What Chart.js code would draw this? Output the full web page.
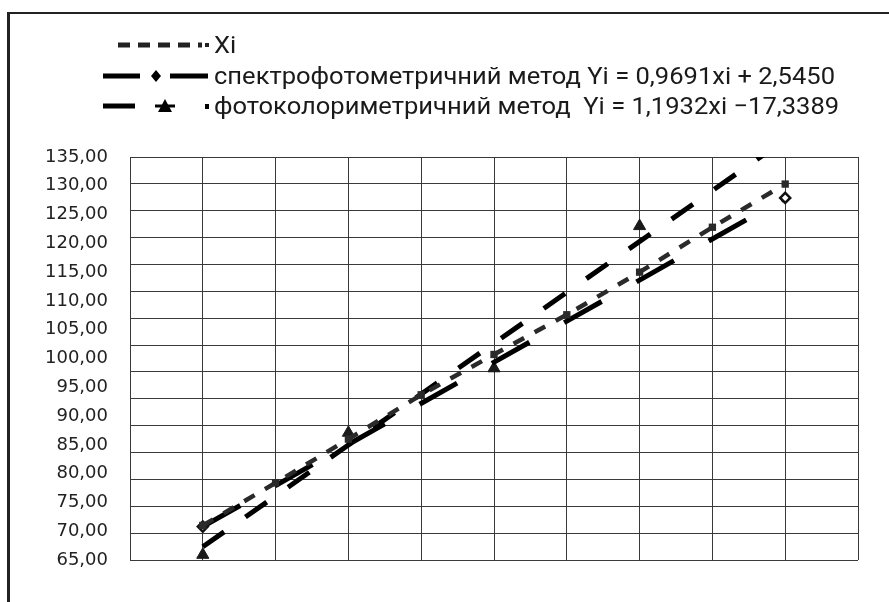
<!DOCTYPE html>
<html>
<head>
<meta charset="utf-8">
<script src="https://cdn.jsdelivr.net/npm/chart.js@4.4.1/dist/chart.umd.min.js"></script>
<style>
    html, body { margin: 0; padding: 0; background: #fff; }
    #wrap { position: relative; width: 889px; height: 602px; overflow: hidden; }
    #frame {
        position: absolute; left: 7px; top: 12px; right: -10px; bottom: -10px;
        border-top: 2px solid #222; border-left: 3px solid #222;
    }
    #chart { position: absolute; left: 0; top: 0; }
    .legend { position: absolute; left: 100px; top: 30px; font-family: Roboto, sans-serif; color: #1a1a1a; }
    .row { position: relative; height: 30.5px; white-space: pre; }
    .row svg { position: absolute; left: 0; top: 0; }
    .row .txt { position: absolute; left: 114px; top: 1px; font-size: 24px; line-height: 28px; transform-origin: left center; white-space: pre; }
</style>
</head>
<body>
<div id="wrap">
    <div id="frame"></div>
    <canvas id="chart" width="889" height="602"></canvas>
    <div class="legend">
        <div class="row">
            <svg width="115" height="30"><line x1="18" y1="15" x2="102" y2="15" stroke="#222" stroke-width="5" stroke-dasharray="12,8"/><rect x="105" y="13" width="4" height="4" fill="#222"/></svg>
            <span class="txt">Xi</span>
        </div>
        <div class="row">
            <svg width="115" height="30"><line x1="3" y1="15" x2="40" y2="15" stroke="#000" stroke-width="5"/><polygon points="56,9 61,15 56,21 51,15" fill="#000"/><line x1="70" y1="15" x2="108" y2="15" stroke="#000" stroke-width="5"/></svg>
            <span class="txt">спектрофотометричний метод Yi = 0,9691xi + 2,5450</span>
        </div>
        <div class="row">
            <svg width="115" height="30"><line x1="3" y1="15" x2="35" y2="15" stroke="#000" stroke-width="5"/><polygon points="65,8 72,21 58,21" fill="#000"/><line x1="55" y1="15" x2="75" y2="15" stroke="#000" stroke-width="3"/><rect x="105" y="13" width="4" height="5" fill="#000"/></svg>
            <span class="txt">фотоколориметричний метод  Yi = 1,1932xi −17,3389</span>
        </div>
    </div>
</div>
<script>
// позиції зразків на осі X (вертикальні лінії сітки)
const samplePos = [1, 2, 3, 4, 5, 6, 7, 8, 9];
// Xi
const xiValues = [71.0, 78.4, 86.0, 93.7, 100.7, 107.6, 115.0, 122.8, 130.3];
// спектрофотометричний метод (лінія від першого до останнього зразка)
const spectroPos = [1, 9];
const spectroValues = [70.8, 127.9];
// фотоколориметричний метод: лінія та точки
const photoLinePos = [1, 9];
const photoLineValues = [67.3, 138.0];
const photoPointPos = [1, 3, 5, 7];
const photoPointValues = [65.9, 87.1, 98.3, 123.0];
// підписи осі Y
const yTicks = [65, 70, 75, 80, 85, 90, 95, 100, 105, 110, 115, 120, 125, 130, 135];

const toXY = (xs, ys) => xs.map((x, i) => ({ x: x, y: ys[i] }));

const gridColor = '#3a3a3a';

new Chart(document.getElementById('chart'), {
    type: 'line',
    data: {
        datasets: [
            {
                label: 'Xi',
                data: toXY(samplePos, xiValues),
                borderColor: '#2a2a2a',
                backgroundColor: '#2a2a2a',
                borderWidth: 4.5,
                borderDash: [12, 12],
                pointStyle: 'rect',
                pointRadius: 2,
                yAxisID: 'y'
            },
            {
                label: 'спектрофотометричний метод',
                data: toXY(spectroPos, spectroValues),
                borderColor: '#000',
                backgroundColor: '#000',
                borderWidth: 5,
                borderDash: [43, 40],
                pointStyle: 'rectRot',
                pointRadius: 5,
                pointBackgroundColor: '#fff',
                pointBorderColor: '#111',
                pointBorderWidth: 2.5,
                yAxisID: 'y'
            },
            {
                label: 'фотоколориметричний метод',
                data: toXY(photoLinePos, photoLineValues),
                borderColor: '#000',
                borderWidth: 5,
                borderDash: [26, 26],
                pointRadius: 0,
                yAxisID: 'y'
            },
            {
                label: 'фотоколориметричний метод (точки)',
                data: toXY(photoPointPos, photoPointValues),
                showLine: false,
                backgroundColor: '#1a1a1a',
                borderColor: '#1a1a1a',
                pointStyle: 'triangle',
                pointRadius: 7,
                yAxisID: 'y'
            }
        ]
    },
    options: {
        responsive: false,
        animation: false,
        events: [],
        layout: { padding: { top: 157, bottom: 42, left: 0, right: 31 } },
        plugins: { legend: { display: false }, tooltip: { enabled: false } },
        scales: {
            x: {
                type: 'linear',
                min: 0,
                max: 10,
                ticks: { display: false, stepSize: 1 },
                grid: { color: gridColor, lineWidth: 1, drawTicks: false },
                border: { display: false },
                afterFit: s => { s.height = 0; }
            },
            y: {
                type: 'linear',
                position: 'left',
                min: yTicks[0],
                max: yTicks[yTicks.length - 1],
                afterBuildTicks: s => { s.ticks = yTicks.map(v => ({ value: v })); },
                ticks: {
                    padding: 22,
                    color: '#222',
                    font: { family: 'DejaVu Sans', size: 18 },
                    callback: v => v.toFixed(2).replace('.', ',')
                },
                grid: { display: false, drawTicks: false },
                border: { display: false },
                afterFit: s => { s.width = 130; }
            },
            // окрема вісь лише для горизонтальної сітки (16 ліній)
            yGrid: {
                type: 'linear',
                position: 'right',
                min: 0,
                max: 15,
                ticks: { display: false, stepSize: 1 },
                grid: { color: gridColor, lineWidth: 1, drawTicks: false },
                border: { display: false },
                afterFit: s => { s.width = 0; }
            }
        }
    }
});

// стиснення тексту легенди до ширини оригіналу
const rows = document.querySelectorAll('.row .txt');
const target = 621;
const w = rows[1].getBoundingClientRect().width;
const k = target / w;
rows.forEach(r => { r.style.transform = `scaleX(${k})`; });
</script>
</body>
</html>
